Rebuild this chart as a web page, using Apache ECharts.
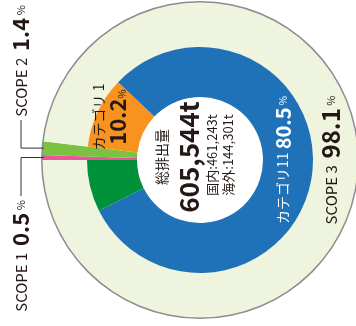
<!DOCTYPE html>
<html><head><meta charset="utf-8">
<script src="https://cdn.jsdelivr.net/npm/echarts@6/dist/echarts.min.js"></script>
<style>html,body{margin:0;padding:0;background:#fff}#c{width:356px;height:326px}</style>
</head><body><div id="c"></div>
<script>
// ---- data ----
const innerNames = ['SCOPE 1', 'SCOPE 2', 'カテゴリ 1', 'カテゴリ 11', 'その他'];
const innerValues = [0.5, 1.4, 10.2, 80.5, 7.4];
const scopeNames = ['SCOPE 1', 'SCOPE 2', 'SCOPE 3'];
const scopeValues = [0.5, 1.4, 98.1];
const totalTitle = '総排出量';
const totalValue = '605,544t';
const domesticText = '国内:461,243t';
const overseasText = '海外:144,301t';

// ---- style ----
const innerColors = ['#e95598', '#7cc242', '#f7931e', '#1f71b8', '#00913a'];
const scopeColors = ['#e95598', '#7cc242', '#eef4dd'];
const FONT = '"Noto Sans CJK JP", "Noto Sans", sans-serif';
const TXT = '#231815';
const cx = 200, cy = 160, R = 158, r1 = 113, r0 = 63;
const START = 180;

const chart = echarts.init(document.getElementById('c'), null, {renderer: 'canvas'});

function sumArr(a) { return a.reduce((s, v) => s + v, 0); }
function midAngle(values, i) {
  const tot = sumArr(values);
  let before = 0; for (let k = 0; k < i; k++) before += values[k];
  return START - (before + values[i] / 2) / tot * 360;
}
function pt(angleDeg, r) {
  const a = angleDeg * Math.PI / 180;
  return [cx + r * Math.cos(a), cy - r * Math.sin(a)];
}
const ROT = Math.PI / 2;

function rotText(x, y, text, rich, extra) {
  return {
    type: 'text', x: x, y: y, rotation: ROT, silent: true, z: 100,
    style: Object.assign({
      text: text, rich: rich, align: 'center', verticalAlign: 'middle',
      fontFamily: FONT, fill: TXT
    }, extra || {})
  };
}

const cat1Pos = pt(midAngle(innerValues, 2), 101);
const s2y = pt(midAngle(scopeValues, 1), R)[1];
const s1y = pt(midAngle(scopeValues, 0), R)[1];
const leftX = cx - R;
const labelX = 21;

const graphics = [
  rotText(cx - 38, cy - 3, totalTitle, null, {fontSize: 14, fill: TXT}),
  rotText(cx - 11, cy - 3, totalValue, null, {fontSize: 26, fontWeight: 'bold', fill: TXT}),
  rotText(cx + 12, cy - 5, domesticText, null, {fontSize: 13, fill: TXT}),
  rotText(cx + 28, cy - 5, overseasText, null, {fontSize: 13, fill: TXT}),
  rotText(cat1Pos[0], cat1Pos[1], '{n|' + innerNames[2] + '}\n{v|' + innerValues[2].toFixed(1) + '}{p|%}', {
    n: {fontSize: 14, fontFamily: FONT, fill: TXT, lineHeight: 19},
    v: {fontSize: 22, fontWeight: 'bold', fontFamily: FONT, fill: TXT, lineHeight: 19},
    p: {fontSize: 10, fontFamily: FONT, fill: TXT, verticalAlign: 'bottom'}
  }),
  rotText(cx + 83, cy, '{n|' + innerNames[3].replace(' ', '') + ' }{v|' + innerValues[3].toFixed(1) + '}{p| %}', {
    n: {fontSize: 14, fontFamily: FONT, fill: '#fff'},
    v: {fontSize: 20, fontWeight: 'bold', fontFamily: FONT, fill: '#fff'},
    p: {fontSize: 10, fontFamily: FONT, fill: '#fff'}
  }),
  rotText(cx + 131, cy, '{n|' + scopeNames[2] + '  }{v|' + scopeValues[2].toFixed(1) + '}{p| %}', {
    n: {fontSize: 15, fontFamily: FONT, fill: TXT},
    v: {fontSize: 24, fontWeight: 'bold', fontFamily: FONT, fill: TXT},
    p: {fontSize: 11, fontFamily: FONT, fill: TXT}
  }),
  rotText(labelX, 61, '{n|' + scopeNames[1] + '  }{v|' + scopeValues[1].toFixed(1) + '}{p| %}', {
    n: {fontSize: 15, fontFamily: FONT, fill: TXT},
    v: {fontSize: 22, fontWeight: 'bold', fontFamily: FONT, fill: TXT},
    p: {fontSize: 11, fontFamily: FONT, fill: TXT}
  }),
  rotText(labelX, 256, '{n|' + scopeNames[0] + '  }{v|' + scopeValues[0].toFixed(1) + '}{p| %}', {
    n: {fontSize: 15, fontFamily: FONT, fill: TXT},
    v: {fontSize: 22, fontWeight: 'bold', fontFamily: FONT, fill: TXT},
    p: {fontSize: 11, fontFamily: FONT, fill: TXT}
  }),
  {type: 'polyline', silent: true, z: 100, shape: {points: [[leftX + 2, s2y], [labelX, s2y], [labelX, 120]]},
   style: {stroke: '#333', lineWidth: 1, fill: null}},
  {type: 'polyline', silent: true, z: 100, shape: {points: [[leftX + 2, s1y], [labelX, s1y], [labelX, 196]]},
   style: {stroke: '#333', lineWidth: 1, fill: null}}
];

const common = {
  type: 'pie', center: [cx, cy], startAngle: START, clockwise: true, silent: true,
  label: {show: false}, labelLine: {show: false}, emphasis: {disabled: true},
  avoidLabelOverlap: false, minAngle: 0
};

chart.setOption({
  animation: false,
  backgroundColor: '#fff',
  series: [
    Object.assign({}, common, {
      name: 'scope', radius: [r1 - 1, R],
      data: scopeNames.map((n, i) => ({name: n, value: scopeValues[i], itemStyle: {color: scopeColors[i]}}))
    }),
    Object.assign({}, common, {
      name: 'category', radius: [r0, r1],
      data: innerNames.map((n, i) => ({name: n, value: innerValues[i], itemStyle: {color: innerColors[i]}}))
    }),
    Object.assign({}, common, {
      name: 'border', radius: [R - 0.5, R + 1],
      data: [{name: 'border', value: 1, itemStyle: {color: '#8c8c8c'}}]
    })
  ],
  graphic: graphics
});
</script></body></html>
